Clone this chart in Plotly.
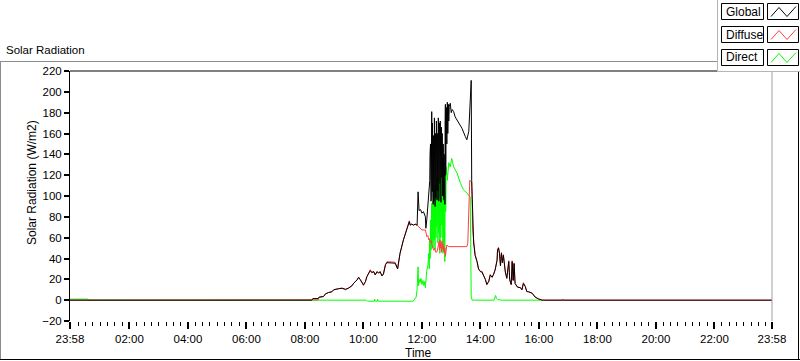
import plotly.graph_objects as go
from datetime import datetime, timedelta

# ---------------- data (time of day "HH:MM[:SS]", W/m2) ----------------
x_tick_labels = ["23:58", "02:00", "04:00", "06:00", "08:00", "10:00", "12:00",
                 "14:00", "16:00", "18:00", "20:00", "22:00", "23:58"]

global_time = ["23:58", "08:14", "08:16", "08:27", "08:29", "08:38", "08:42", "08:48", "08:55", "08:59",
               "09:09", "09:16", "09:23", "09:29", "09:36", "09:40", "09:47", "09:50", "09:53", "10:00",
               "10:04", "10:07", "10:14", "10:17", "10:21", "10:24", "10:28", "10:31", "10:34", "10:38",
               "10:41", "10:45", "10:48", "10:58", "11:05", "11:10", "11:15", "11:22", "11:29", "11:34",
               "11:36", "11:39", "11:43", "11:46", "11:50", "11:52", "11:54", "11:57", "12:00", "12:03",
               "12:07", "12:08", "12:10", "12:12", "12:14",
               "12:16:00", "12:16:30", "12:17:00", "12:17:30", "12:18:00", "12:18:30", "12:19:00", "12:19:30",
               "12:20:00", "12:20:30", "12:21:00", "12:21:30", "12:22:00", "12:22:30", "12:23:00", "12:23:30",
               "12:24:00", "12:24:30", "12:25:00", "12:25:30", "12:26:00", "12:26:30", "12:27:00", "12:27:30",
               "12:28:00", "12:28:30", "12:29:00", "12:29:30", "12:30:00", "12:30:30", "12:31:00", "12:31:30",
               "12:32:00", "12:32:30", "12:33:00", "12:33:30", "12:34:00", "12:34:30", "12:35:00", "12:35:30",
               "12:36:00", "12:36:30", "12:37:00", "12:37:30", "12:38:00", "12:38:30", "12:39:00", "12:39:30",
               "12:40:00", "12:40:30", "12:41:00", "12:41:30", "12:42:00", "12:42:30", "12:43:00", "12:43:30",
               "12:44:00", "12:44:30", "12:45:00", "12:45:30", "12:46:00", "12:46:30", "12:47:00", "12:47:30",
               "12:48:00", "12:48:30", "12:49:00", "12:49:30", "12:50:00",
               "12:51", "12:52", "12:53", "12:54", "12:55", "12:56", "12:58", "13:00", "13:02", "13:05",
               "13:08", "13:15", "13:22", "13:29", "13:32", "13:36", "13:39", "13:41", "13:42", "13:44",
               "13:46", "13:49", "13:53", "13:56", "14:00", "14:03", "14:06", "14:10", "14:13", "14:17",
               "14:20", "14:24", "14:27", "14:30", "14:34", "14:35", "14:37", "14:39", "14:41", "14:43",
               "14:45", "14:47", "14:51", "14:54", "14:58", "15:00", "15:03", "15:05", "15:07", "15:09",
               "15:11", "15:13", "15:16", "15:22", "15:25", "15:28", "15:32", "15:35", "15:39", "15:46",
               "15:52", "15:59", "16:03", "16:07", "23:58"]
global_vals = [0, 0, 1.5, 1.5, 3, 3.5, 6, 7.3, 8, 10,
               11, 11.5, 10.5, 11.5, 13.7, 16.3, 19.5, 22, 20, 14.7,
               17.8, 22.6, 28.4, 26.5, 27.4, 24.3, 27.4, 25.9, 27.4, 23.3,
               25.2, 33.9, 36, 36, 35.5, 30, 45, 57.9, 67.4, 75.4,
               72, 73, 72, 73, 72, 104, 86, 87, 83.5, 85,
               80, 69, 78, 90, 96,
               115, 140, 100, 150, 135, 95, 98, 160,
               181, 120, 104, 170, 150, 100, 92, 140,
               158, 95, 112, 175, 143, 100, 90, 150,
               160, 98, 106, 172, 166, 110, 96, 160,
               150, 105, 122, 175, 165, 95, 100, 168,
               170, 120, 112, 172, 158, 100, 94, 150,
               166, 118, 128, 160, 138, 100, 115, 150,
               142, 98, 96, 140, 125, 92, 92, 170,
               188, 120, 130, 180, 185,
               150, 190, 160, 188, 172, 186, 189, 180, 183, 181,
               176, 171, 165, 157, 154, 162, 195, 211, 115, 67,
               55, 43, 37, 30, 27.4, 27, 24, 20, 15, 18,
               24, 22, 25, 29, 38, 48, 50, 45, 33, 45,
               36, 43, 27, 21, 37, 19.5, 15, 37, 19, 35,
               16, 14.7, 12.5, 12, 10, 16, 13, 8.3, 8, 6.7,
               3, 1.2, 0.5, 0, 0]

diffuse_time = ["23:58", "08:14", "08:16", "08:27", "08:29", "08:38", "08:42", "08:48", "08:55", "08:59",
                "09:09", "09:16", "09:23", "09:29", "09:36", "09:40", "09:47", "09:50", "09:53", "10:00",
                "10:04", "10:07", "10:14", "10:17", "10:21", "10:24", "10:28", "10:31", "10:34", "10:38",
                "10:41", "10:45", "10:48", "10:58", "11:05", "11:10", "11:15", "11:22", "11:29", "11:34",
                "11:36", "11:39", "11:43", "11:46", "11:50", "11:53", "11:56", "12:00", "12:07", "12:10",
                "12:12", "12:14", "12:15", "12:17", "12:19", "12:21", "12:24", "12:26", "12:28", "12:31",
                "12:33", "12:34", "12:35", "12:36", "12:37", "12:38", "12:39", "12:40", "12:41", "12:42",
                "12:43", "12:44", "12:45", "12:46", "12:47", "12:48", "12:50", "12:51", "12:55", "13:32",
                "13:34", "13:36", "13:38", "13:41", "13:42", "13:44", "13:46", "13:49", "13:53", "13:56",
                "14:00", "14:03", "14:06", "14:10", "14:13", "14:17", "14:20", "14:24", "14:27", "14:30",
                "14:34", "14:35", "14:37", "14:39", "14:41", "14:43", "14:45", "14:47", "14:51", "14:54",
                "14:58", "15:00", "15:03", "15:05", "15:07", "15:09", "15:11", "15:13", "15:16", "15:22",
                "15:25", "15:28", "15:32", "15:35", "15:39", "15:46", "15:52", "15:59", "16:03", "16:07",
                "16:48", "16:49", "16:50", "23:58"]
diffuse_vals = [0, 0, 0.3, 0.3, 2.5, 3.5, 6, 7.3, 8, 10,
                11, 11.5, 9.8, 11.5, 13.7, 16.3, 19.5, 22, 20, 14,
                17.8, 22.6, 29.2, 26.5, 27.4, 24.3, 27.4, 25.9, 27.4, 23.3,
                25.2, 33.9, 36.8, 36.8, 36.2, 30, 45, 57.9, 67.4, 76.2,
                72, 73, 72, 73, 72, 70.6, 69, 67.4, 67.4, 61,
                62, 58, 59, 56, 57, 52, 48, 50, 46, 46.6,
                53, 51.4, 56, 48, 58, 50, 55, 46, 57, 49,
                54, 47, 52, 45, 50, 42, 50, 53, 51.4, 51.4,
                54.7, 93, 115, 114, 113, 67,
                55.8, 43.8, 37, 30, 27.4, 27.8, 24, 20, 15, 18,
                24.8, 22, 25, 29, 38.8, 48, 50.8, 45, 33, 45.8,
                36, 43.8, 27, 21, 37.8, 19.5, 15, 37.8, 19, 35.8,
                16, 14.7, 12.5, 12, 10, 16.8, 13, 8.3, 8, 6.7,
                3, 1.2, 0.5, 0,
                0, 1, 0, 0]

direct_time = ["23:58", "00:35", "00:36", "08:20", "08:28", "08:36", "10:06", "10:08", "10:22", "10:23",
               "10:24", "10:28", "10:29", "10:30", "11:42", "11:48", "11:50", "11:52", "11:53", "11:54",
               "11:56", "11:58", "12:00", "12:02", "12:04", "12:06", "12:07", "12:08", "12:10", "12:12",
               "12:13",
               "12:14:00", "12:14:30", "12:15:00", "12:15:30", "12:16:00", "12:16:30", "12:17:00", "12:17:30",
               "12:18:00", "12:18:30", "12:19:00", "12:19:30", "12:20:00", "12:20:30", "12:21:00", "12:21:30",
               "12:22:00", "12:22:30", "12:23:00", "12:23:30", "12:24:00", "12:24:30", "12:25:00", "12:25:30",
               "12:26:00", "12:26:30", "12:27:00", "12:27:30", "12:28:00", "12:28:30", "12:29:00", "12:29:30",
               "12:30:00", "12:30:30", "12:31:00", "12:31:30", "12:32:00", "12:32:30", "12:33:00", "12:33:30",
               "12:34:00", "12:34:30", "12:35:00", "12:35:30", "12:36:00", "12:36:30", "12:37:00", "12:37:30",
               "12:38:00", "12:38:30", "12:39:00", "12:39:30", "12:40:00", "12:40:30", "12:41:00", "12:41:30",
               "12:42:00", "12:42:30", "12:43:00", "12:43:30", "12:44:00", "12:44:30", "12:45:00", "12:45:30",
               "12:46:00", "12:46:30", "12:47:00", "12:47:30", "12:48:00", "12:48:30", "12:49:00", "12:49:30",
               "12:50:00",
               "12:52", "12:55",
               "12:58", "13:01", "13:05", "13:12", "13:19", "13:25", "13:32", "13:36", "13:39", "13:41",
               "13:43", "14:28", "14:30", "14:31", "14:33", "14:35", "14:45", "16:07"]
direct_vals = [1, 1, 0, 0, 0.5, 0, 0, -1, -1, 1,
               -1, -1, 1, -1, -1, 3, 10, 32, 14, 20,
               17, 21, 15, 19, 14, 18, 12, 20, 29, 33,
               38,
               45, 35, 30, 52, 58, 40, 42, 70,
               77, 48, 50, 88, 93, 55, 62, 95,
               80, 50, 55, 100, 98, 58, 65, 108,
               86, 48, 50, 110, 103, 62, 60, 115,
               112, 70, 75, 118, 100, 55, 58, 120,
               118, 65, 70, 112, 95, 45, 48, 110,
               105, 60, 62, 122, 120, 72, 80, 115,
               100, 50, 45, 105, 110, 55, 52, 95,
               88, 40, 37, 118, 125, 85, 90, 126,
               128,
               115, 132,
               128, 136, 128, 122, 112, 106, 103, 101, 99, 3,
               0, 0, 3, 4.5, 1.5, 0.5, 0, 0]

# ---------------- helpers ----------------
DAY = datetime(2024, 1, 2)
X_START = DAY - timedelta(minutes=2)
X_END = DAY + timedelta(hours=23, minutes=58)


def to_dt(times):
    out = []
    for i, s in enumerate(times):
        parts = list(map(int, s.split(":")))
        h, m = parts[0], parts[1]
        sec = parts[2] if len(parts) > 2 else 0
        d = DAY + timedelta(hours=h, minutes=m, seconds=sec)
        if i == 0 and s == "23:58":
            d = X_START
        out.append(d)
    return out


W, H = 800, 361
ML, MR, MT, MB = 70, 28, 71, 40
PW, PH = W - ML - MR, H - MT - MB


def px(x):
    return (x - ML) / PW


def py(y):
    return (H - MB - y) / PH


FONT = "Liberation Sans, Arial, sans-serif"
RED = "#ff4040"
GREEN = "#00ff00"

fig = go.Figure()
fig.add_trace(go.Scatter(x=to_dt(direct_time), y=direct_vals, mode="lines", name="Direct",
                         line=dict(color=GREEN, width=1), showlegend=False))
fig.add_trace(go.Scatter(x=to_dt(diffuse_time), y=diffuse_vals, mode="lines", name="Diffuse",
                         line=dict(color=RED, width=1), showlegend=False))
fig.add_trace(go.Scatter(x=to_dt(global_time), y=global_vals, mode="lines", name="Global",
                         line=dict(color="#000000", width=1), showlegend=False))

tickvals = [X_START] + [DAY + timedelta(hours=2 * k) for k in range(1, 12)] + [X_END]

fig.update_layout(
    width=W, height=H,
    margin=dict(l=ML, r=MR, t=MT, b=MB, pad=0),
    paper_bgcolor="white", plot_bgcolor="white",
    font=dict(family=FONT, size=11, color="black"),
    xaxis=dict(type="date", range=[X_START, X_END], tickvals=tickvals, ticktext=x_tick_labels,
               ticks="outside", ticklen=7, tickwidth=2, tickcolor="black",
               showgrid=False, zeroline=False, showline=False,
               tickfont=dict(family=FONT, size=11.5, color="black"),
               minor=dict(ticks="outside", ticklen=4, tickwidth=1, tickcolor="black",
                          dtick=15 * 60 * 1000, tick0=DAY, showgrid=False)),
    yaxis=dict(range=[-20, 220], dtick=20, tick0=0, ticks="outside", ticklen=5, tickwidth=1.5,
               tickcolor="black", showgrid=False, zeroline=False, showline=True,
               linecolor="black", linewidth=1,
               tickfont=dict(family=FONT, size=11.5, color="black")),
)

shapes = []
gray = "#8c8c8c"
# outer panel frame
shapes.append(dict(type="line", xref="paper", yref="paper", x0=px(0), x1=px(717), y0=py(61.5), y1=py(61.5),
                   line=dict(color=gray, width=1)))
shapes.append(dict(type="line", xref="paper", yref="paper", x0=px(0.5), x1=px(0.5), y0=py(61.5), y1=py(360),
                   line=dict(color=gray, width=1)))
shapes.append(dict(type="line", xref="paper", yref="paper", x0=px(0), x1=px(800), y0=py(359.5), y1=py(359.5),
                   line=dict(color="black", width=1)))
shapes.append(dict(type="line", xref="paper", yref="paper", x0=px(798.5), x1=px(798.5), y0=py(61.5), y1=py(360),
                   line=dict(color="black", width=1)))
# plot frame
shapes.append(dict(type="line", xref="paper", yref="paper", x0=0, x1=1, y0=1, y1=1,
                   line=dict(color="black", width=1)))
shapes.append(dict(type="line", xref="paper", yref="paper", x0=1, x1=1, y0=0, y1=1,
                   line=dict(color="#a0a0a0", width=1)))
# legend panel
shapes.append(dict(type="rect", xref="paper", yref="paper", x0=px(717), x1=px(800), y0=py(0), y1=py(71.5),
                   fillcolor="white", line=dict(width=0)))
shapes.append(dict(type="line", xref="paper", yref="paper", x0=px(717.5), x1=px(717.5), y0=py(0), y1=py(71.5),
                   line=dict(color="#b4b4b4", width=1)))
shapes.append(dict(type="line", xref="paper", yref="paper", x0=px(717.5), x1=px(800), y0=py(71.5), y1=py(71.5),
                   line=dict(color="#b4b4b4", width=1)))

legend_names = ["Global", "Diffuse", "Direct"]
legend_colors = ["#000000", RED, GREEN]
row_tops = [3.5, 26.5, 49.5]
annotations = []
for name, col, top in zip(legend_names, legend_colors, row_tops):
    bot = top + 16
    shapes.append(dict(type="rect", xref="paper", yref="paper", x0=px(721.5), x1=px(763.5),
                       y0=py(top), y1=py(bot), line=dict(color="black", width=1)))
    shapes.append(dict(type="rect", xref="paper", yref="paper", x0=px(767.5), x1=px(798.5),
                       y0=py(top), y1=py(bot), line=dict(color="black", width=1)))
    pts = [(771, bot - 3), (779, top + 4), (787, bot - 3), (796, top + 3)]
    path = "M " + " L ".join(f"{px(a)},{py(b)}" for a, b in pts)
    shapes.append(dict(type="path", xref="paper", yref="paper", path=path,
                       line=dict(color=col, width=1)))
    annotations.append(dict(text=name, xref="paper", yref="paper", x=px(723.5), y=py((top + bot) / 2),
                            xanchor="left", yanchor="middle", showarrow=False,
                            font=dict(family=FONT, size=12, color="black")))

annotations.append(dict(text="Solar Radiation", xref="paper", yref="paper", x=px(4), y=py(50),
                        xanchor="left", yanchor="middle", showarrow=False,
                        font=dict(family=FONT, size=11.5, color="black")))
annotations.append(dict(text="Solar Radiation (W/m2)", xref="paper", yref="paper", x=px(32), y=py(183),
                        xanchor="center", yanchor="middle", textangle=-90, showarrow=False,
                        font=dict(family=FONT, size=12, color="black")))
annotations.append(dict(text="Time", xref="paper", yref="paper", x=px(418), y=py(353),
                        xanchor="center", yanchor="middle", showarrow=False,
                        font=dict(family=FONT, size=12, color="black")))

fig.update_layout(shapes=shapes, annotations=annotations)

post = "document.body.style.margin='0';document.body.style.padding='0';"
fig.write_html("out.html", post_script=post, config={"displayModeBar": False})
